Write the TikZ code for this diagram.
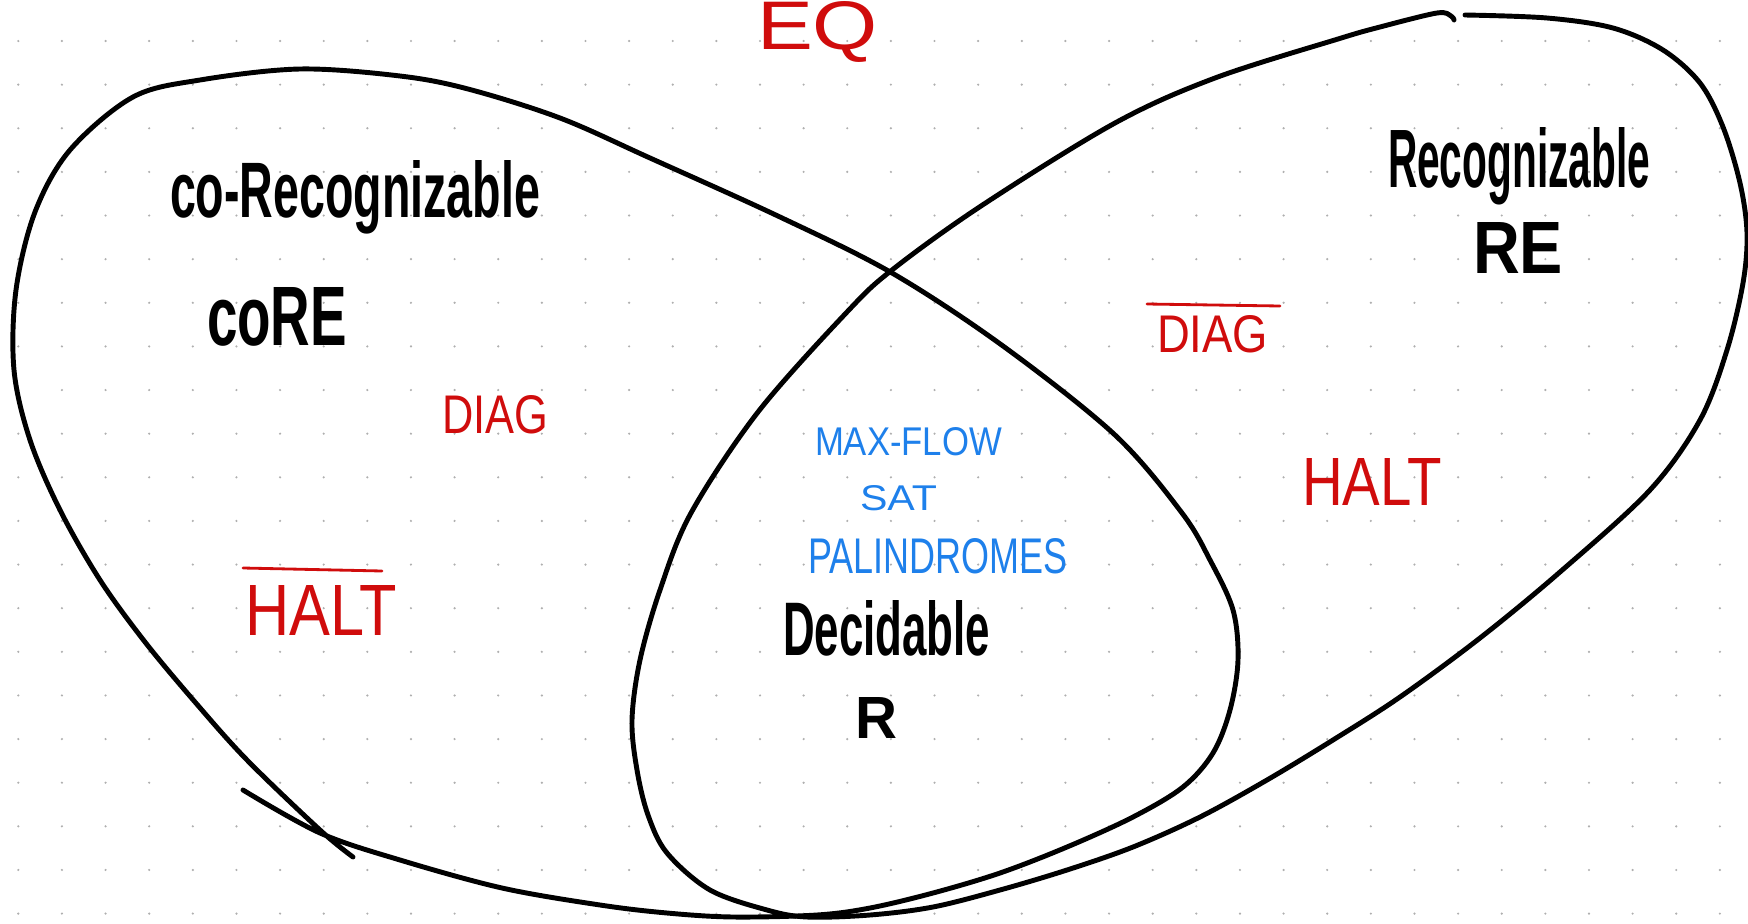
\documentclass[tikz,border=0pt]{standalone}
\usepackage{fontspec}
\setmainfont{Liberation Sans}
\usepackage{graphicx}
\newlength\px \setlength\px{0.01cm}
\newcommand\hw[3]{\resizebox{#1\px}{#2\px}{#3}}
\definecolor{inkred}{RGB}{208,12,12}
\definecolor{inkblue}{RGB}{30,128,235}
\definecolor{dotgray}{RGB}{175,175,175}
\begin{document}
\begin{tikzpicture}[x=0.01cm,y=-0.01cm,
  loopline/.style={line width=1.4pt, line cap=round, line join=round},
  lbl/.style={inner sep=0pt, outer sep=0pt, anchor=base west},
  blk/.style={lbl, text=black, font=\bfseries},
  redt/.style={lbl, text=inkred},
  bluet/.style={lbl, text=inkblue},
  bar/.style={draw=inkred, line width=0.8pt, line cap=round}]
\useasboundingbox (0,0) rectangle (1748,924);
\fill[white] (0,0) rectangle (1748,924);
\foreach \i in {0,...,39}{\foreach \j in {0,...,20}{\fill[dotgray] (18.3+43.63*\i, 41+43.63*\j) circle[radius=0.012cm];}}
\begin{scope}
\clip (0,0) rectangle (1748,924);
% co-Recognizable loop
\draw[loopline] plot[smooth, tension=0.55] coordinates {
 (353,857) (320,830) (247,760) (195,702) (145,642) (100,580) (60,510) (30,440)
 (14,370) (16,290) (35,212) (70,150) (133,97) (200,80) (300,69) (400,76)
 (468,89) (560,118) (650,158) (780,217) (892,273) (1003,346) (1115,435) (1182,513)
 (1210,560) (1233,610) (1238,660) (1230,710) (1213,753) (1183,787) (1133,817)
 (1067,847) (1000,873) (933,893) (870,908) (817,915)
 (733,917) (667,913) (600,905) (502,888) (400,860) (320,833) (243,790)};
% Recognizable loop
\draw[loopline] plot[smooth, tension=0.55] coordinates {
 (1465,15) (1547,18) (1613,28) (1663,50) (1700,83) (1723,127) (1740,183) (1747,233)
 (1743,283) (1727,350) (1700,420) (1650,490) (1560,572) (1480,638) (1400,697)
 (1333,740) (1267,780) (1200,817) (1133,847) (1067,870) (1000,890) (933,907)
 (870,915) (807,917) (767,910) (710,890) (667,853)
 (648,815) (637,770) (632,720) (640,660) (660,590) (691,513) (758,412) (847,312)
 (892,270) (981,206) (1115,123) (1215,78) (1338,39) (1380,27) (1437,13) (1451,16) (1454,20)};
\end{scope}
% labels
\node[redt] (eq) at (757,50) {\hw{121}{48}{EQ}};
\node[blk] (coreclass) at (170,217) {\hw{370}{57}{co-Recognizable}};
\node[blk] (core) at (207,345) {\hw{140}{58}{coRE}};
\node[blk] (reclass) at (1388,187) {\hw{262}{60}{Recognizable}};
\node[blk] (re) at (1473,273) {\hw{90}{51}{RE}};
\node[redt] (diagL) at (442,433) {\hw{106}{38}{DIAG}};
\node[redt] (haltL) at (245,635) {\hw{152}{50}{HALT}};
\draw[bar] ([shift={(-2,-17)}]haltL.north west) -- ([shift={(-15,-14)}]haltL.north east);
\node[bluet] (maxflow) at (815,455) {\hw{187}{28}{MAX-FLOW}};
\node[bluet] (sat) at (860,510) {\hw{77}{25}{SAT}};
\node[bluet] (pal) at (808,573) {\hw{259}{35}{PALINDROMES}};
\node[blk] (dec) at (783,655) {\hw{207}{55}{Decidable}};
\node[blk] (r) at (855,738) {\hw{42}{41}{R}};
\node[redt] (diagR) at (1157,352) {\hw{111}{37}{DIAG}};
\draw[bar] ([shift={(-10,-11)}]diagR.north west) -- ([shift={(12,-9)}]diagR.north east);
\node[redt] (haltR) at (1302,505) {\hw{140}{47}{HALT}};
\end{tikzpicture}
\end{document}
